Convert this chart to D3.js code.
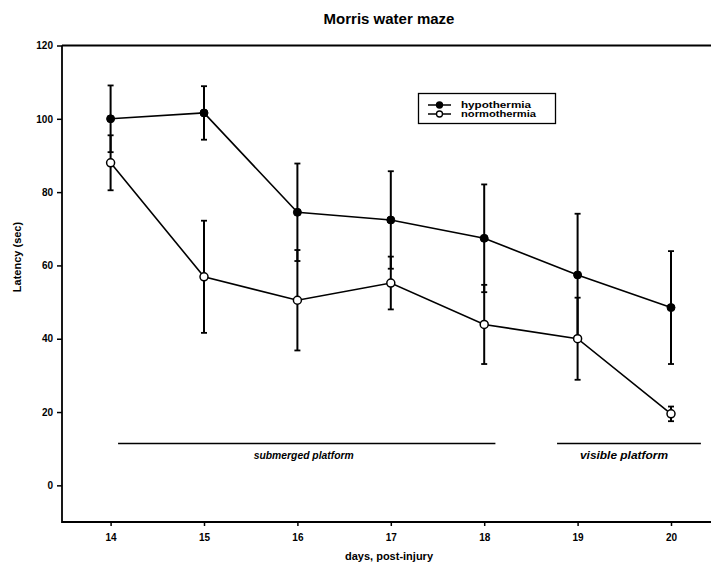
<!DOCTYPE html>
<html>
<head>
<meta charset="utf-8">
<script src="https://cdn.jsdelivr.net/npm/d3@7"></script>
<style>
  html, body { margin: 0; padding: 0; background: #fff; }
  svg { display: block; font-family: "Liberation Sans", Arial, sans-serif; }
</style>
</head>
<body>
<svg id="chart" width="711" height="569"></svg>
<script>
// Latency in the Morris water maze, days 14-20 post-injury (mean ± SEM)
const days = [14, 15, 16, 17, 18, 19, 20];
const hypoMean = [100, 101.6, 74.5, 72.4, 67.4, 57.4, 48.5];
const hypoErr  = [9.1, 7.3, 13.3, 13.3, 14.7, 16.7, 15.4];
const normoMean = [88.0, 56.9, 50.5, 55.2, 43.9, 40.0, 19.5];
const normoErr  = [7.5, 15.3, 13.7, 7.2, 10.8, 11.2, 2.0];
const yTicks = [0, 20, 40, 60, 80, 100, 120];
const seriesNames = ["hypothermia", "normothermia"];
const phases = [
  { label: "submerged platform", from: 14.08, to: 18.12, width: 100, shift: -3 },
  { label: "visible platform",   from: 18.78, to: 20.32, width: 88,  shift: -5 }
];

const svg = d3.select("#chart");
const frame = { left: 62, top: 45.5, bottom: 522, right: 716 };

const x = d3.scaleLinear().domain([14, 20]).range([110.6, 671]);
const y = d3.scaleLinear().domain([-10, 120]).range([frame.bottom, frame.top]);

// Plot frame (left, top, bottom)
const fr = svg.append("g").attr("stroke", "#000").attr("stroke-width", 1.8).attr("fill", "none");
fr.append("path").attr("d", `M${frame.left},${frame.top}H${frame.right}`);
fr.append("path").attr("d", `M${frame.left},${frame.top}V${frame.bottom}H${frame.right}`);

// Axes
const yAxis = svg.append("g")
  .attr("transform", `translate(${frame.left},0)`)
  .call(d3.axisLeft(y).tickValues(yTicks).tickFormat(d3.format("d")).tickSize(5).tickPadding(4));
const xAxis = svg.append("g")
  .attr("transform", `translate(0,${frame.bottom})`)
  .call(d3.axisBottom(x).tickValues(days).tickFormat(d3.format("d")).tickSize(4).tickPadding(8));
[yAxis, xAxis].forEach(a => {
  a.select(".domain").remove();
  a.selectAll(".tick line").attr("stroke", "#000").attr("stroke-width", 1.5);
  a.selectAll(".tick text")
    .attr("fill", "#000")
    .style("font-family", "'Liberation Sans', Arial, sans-serif")
    .style("font-size", "10px")
    .style("font-weight", "bold");
});

// Titles
svg.append("text")
  .attr("x", 389).attr("y", 24)
  .attr("text-anchor", "middle")
  .style("font-size", "15px").style("font-weight", "bold")
  .text("Morris water maze");
svg.append("text")
  .attr("x", 389).attr("y", 560)
  .attr("text-anchor", "middle")
  .style("font-size", "11px").style("font-weight", "bold")
  .text("days, post-injury");
svg.append("text")
  .attr("transform", "translate(21,257) rotate(-90)")
  .attr("text-anchor", "middle")
  .style("font-size", "11px").style("font-weight", "bold")
  .text("Latency (sec)");

// Phase annotations
const ph = svg.append("g");
phases.forEach(p => {
  ph.append("line")
    .attr("x1", x(p.from)).attr("x2", x(p.to))
    .attr("y1", 443.5).attr("y2", 443.5)
    .attr("stroke", "#000").attr("stroke-width", 1.6);
  ph.append("text")
    .attr("x", (x(p.from) + x(p.to)) / 2 + p.shift).attr("y", 459)
    .attr("text-anchor", "middle")
    .attr("textLength", p.width).attr("lengthAdjust", "spacingAndGlyphs")
    .style("font-size", "10px").style("font-weight", "bold").style("font-style", "italic")
    .text(p.label);
});

function series(mean, err) {
  const g = svg.append("g");
  // error bars
  days.forEach((d, i) => {
    const cx = x(d), top = y(mean[i] + err[i]), bot = y(mean[i] - err[i]);
    g.append("line").attr("x1", cx).attr("x2", cx).attr("y1", top).attr("y2", bot)
      .attr("stroke", "#000").attr("stroke-width", 2);
    [top, bot].forEach(v => g.append("line")
      .attr("x1", cx - 3).attr("x2", cx + 3).attr("y1", v).attr("y2", v)
      .attr("stroke", "#000").attr("stroke-width", 1.8));
  });
  g.append("path")
    .datum(days.map((d, i) => [x(d), y(mean[i])]))
    .attr("d", d3.line())
    .attr("fill", "none").attr("stroke", "#000").attr("stroke-width", 1.6);
  return g;
}
series(hypoMean, hypoErr);
series(normoMean, normoErr);

// markers on top
days.forEach((d, i) => {
  svg.append("circle").attr("cx", x(d)).attr("cy", y(hypoMean[i])).attr("r", 4)
    .attr("fill", "#000").attr("stroke", "#000").attr("stroke-width", 1);
});
days.forEach((d, i) => {
  svg.append("circle").attr("cx", x(d)).attr("cy", y(normoMean[i])).attr("r", 4)
    .attr("fill", "#fff").attr("stroke", "#000").attr("stroke-width", 1.5);
});

// Legend
const lg = svg.append("g");
lg.append("rect").attr("x", 418.5).attr("y", 93.5).attr("width", 137).attr("height", 30)
  .attr("fill", "#fff").attr("stroke", "#000").attr("stroke-width", 1.3);
seriesNames.forEach((name, i) => {
  const ly = 105 + i * 9;
  lg.append("line").attr("x1", 428).attr("x2", 451).attr("y1", ly).attr("y2", ly)
    .attr("stroke", "#000").attr("stroke-width", 1.5);
  lg.append("circle").attr("cx", 439.5).attr("cy", ly).attr("r", 3)
    .attr("fill", i === 0 ? "#000" : "#fff").attr("stroke", "#000").attr("stroke-width", 1.3);
  lg.append("text").attr("x", 461).attr("y", ly + 3)
    .attr("textLength", i === 0 ? 70 : 75).attr("lengthAdjust", "spacingAndGlyphs")
    .style("font-size", "9px").style("font-weight", "bold")
    .text(name);
});
</script>
</body>
</html>
